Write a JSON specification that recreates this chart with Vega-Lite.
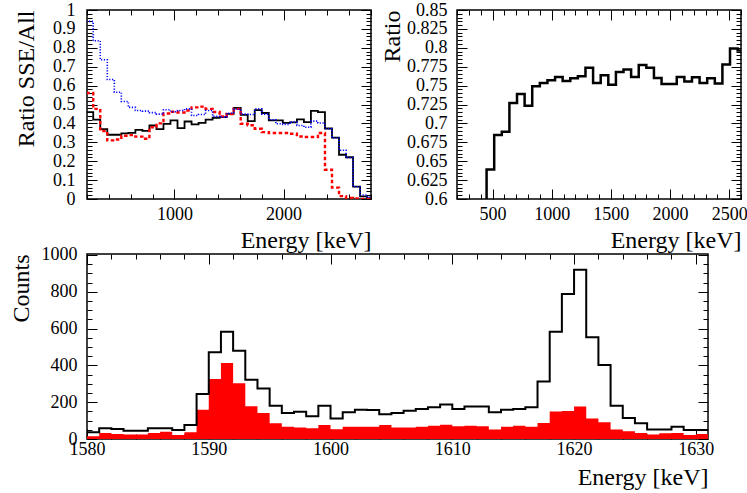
{
  "$schema": "https://vega.github.io/schema/vega-lite/v6.json",
  "background": "white",
  "padding": {"left": 8, "top": 0, "right": 0, "bottom": 0},
  "datasets": {
    "tl": [
      {"e": 192.9, "bk": 0.46, "bl": 0.94, "rd": 0.561},
      {"e": 257.1, "bk": 0.42, "bl": 0.837, "rd": 0.477},
      {"e": 321.4, "bk": 0.37, "bl": 0.737, "rd": 0.36},
      {"e": 385.7, "bk": 0.34, "bl": 0.632, "rd": 0.31},
      {"e": 450.0, "bk": 0.34, "bl": 0.565, "rd": 0.315},
      {"e": 514.3, "bk": 0.347, "bl": 0.516, "rd": 0.335},
      {"e": 578.6, "bk": 0.35, "bl": 0.485, "rd": 0.338},
      {"e": 642.9, "bk": 0.366, "bl": 0.468, "rd": 0.33},
      {"e": 707.1, "bk": 0.36, "bl": 0.465, "rd": 0.319},
      {"e": 771.4, "bk": 0.389, "bl": 0.457, "rd": 0.38},
      {"e": 835.7, "bk": 0.37, "bl": 0.449, "rd": 0.4},
      {"e": 900.0, "bk": 0.398, "bl": 0.472, "rd": 0.452},
      {"e": 964.3, "bk": 0.416, "bl": 0.462, "rd": 0.462},
      {"e": 1028.6, "bk": 0.375, "bl": 0.468, "rd": 0.458},
      {"e": 1092.9, "bk": 0.41, "bl": 0.477, "rd": 0.468},
      {"e": 1157.1, "bk": 0.395, "bl": 0.442, "rd": 0.485},
      {"e": 1221.4, "bk": 0.403, "bl": 0.447, "rd": 0.489},
      {"e": 1285.7, "bk": 0.42, "bl": 0.468, "rd": 0.477},
      {"e": 1350.0, "bk": 0.43, "bl": 0.437, "rd": 0.46},
      {"e": 1414.3, "bk": 0.433, "bl": 0.433, "rd": 0.437},
      {"e": 1478.6, "bk": 0.45, "bl": 0.454, "rd": 0.45},
      {"e": 1542.9, "bk": 0.482, "bl": 0.475, "rd": 0.477},
      {"e": 1607.1, "bk": 0.445, "bl": 0.449, "rd": 0.398},
      {"e": 1671.4, "bk": 0.412, "bl": 0.447, "rd": 0.39},
      {"e": 1735.7, "bk": 0.47, "bl": 0.477, "rd": 0.372},
      {"e": 1800.0, "bk": 0.455, "bl": 0.449, "rd": 0.354},
      {"e": 1864.3, "bk": 0.416, "bl": 0.419, "rd": 0.349},
      {"e": 1928.6, "bk": 0.416, "bl": 0.398, "rd": 0.349},
      {"e": 1992.9, "bk": 0.403, "bl": 0.395, "rd": 0.349},
      {"e": 2057.1, "bk": 0.405, "bl": 0.407, "rd": 0.345},
      {"e": 2121.4, "bk": 0.421, "bl": 0.389, "rd": 0.331},
      {"e": 2185.7, "bk": 0.407, "bl": 0.38, "rd": 0.328},
      {"e": 2250.0, "bk": 0.466, "bl": 0.412, "rd": 0.328},
      {"e": 2314.3, "bk": 0.46, "bl": 0.402, "rd": 0.349},
      {"e": 2378.6, "bk": 0.373, "bl": 0.372, "rd": 0.155},
      {"e": 2442.9, "bk": 0.325, "bl": 0.323, "rd": 0.06},
      {"e": 2507.1, "bk": 0.234, "bl": 0.258, "rd": 0.015},
      {"e": 2571.4, "bk": 0.221, "bl": 0.219, "rd": 0.005},
      {"e": 2635.7, "bk": 0.065, "bl": 0.065, "rd": 0.003},
      {"e": 2700.0, "bk": 0.014, "bl": 0.021, "rd": 0.0},
      {"e": 2764.3, "bk": 0.003, "bl": 0.009, "rd": 0.0},
      {"e": 2828.6, "bk": 0.003, "bl": 0.009, "rd": 0.0}
    ],
    "tr": [
      {"e": 385.7, "v": 0.59},
      {"e": 450.0, "v": 0.639},
      {"e": 514.3, "v": 0.6845},
      {"e": 578.6, "v": 0.689},
      {"e": 642.9, "v": 0.727},
      {"e": 707.1, "v": 0.739},
      {"e": 771.4, "v": 0.7235},
      {"e": 835.7, "v": 0.749},
      {"e": 900.0, "v": 0.7535},
      {"e": 964.3, "v": 0.757},
      {"e": 1028.6, "v": 0.7615},
      {"e": 1092.9, "v": 0.756},
      {"e": 1157.1, "v": 0.7597},
      {"e": 1221.4, "v": 0.7624},
      {"e": 1285.7, "v": 0.7735},
      {"e": 1350.0, "v": 0.7535},
      {"e": 1414.3, "v": 0.7637},
      {"e": 1478.6, "v": 0.751},
      {"e": 1542.9, "v": 0.768},
      {"e": 1607.1, "v": 0.7712},
      {"e": 1671.4, "v": 0.7615},
      {"e": 1735.7, "v": 0.7774},
      {"e": 1800.0, "v": 0.7735},
      {"e": 1864.3, "v": 0.76},
      {"e": 1928.6, "v": 0.752},
      {"e": 1992.9, "v": 0.752},
      {"e": 2057.1, "v": 0.7615},
      {"e": 2121.4, "v": 0.7553},
      {"e": 2185.7, "v": 0.761},
      {"e": 2250.0, "v": 0.7535},
      {"e": 2314.3, "v": 0.7597},
      {"e": 2378.6, "v": 0.7527},
      {"e": 2442.9, "v": 0.7779},
      {"e": 2507.1, "v": 0.7991},
      {"e": 2571.4, "v": 0.7965},
      {"e": 2635.7, "v": 0.7965}
    ],
    "bt": [
      {"e": 1580, "all": 36, "sse": 15},
      {"e": 1581, "all": 58, "sse": 33},
      {"e": 1582, "all": 54, "sse": 27},
      {"e": 1583, "all": 45, "sse": 24},
      {"e": 1584, "all": 45, "sse": 24},
      {"e": 1585, "all": 58, "sse": 33},
      {"e": 1586, "all": 58, "sse": 40},
      {"e": 1587, "all": 49, "sse": 22},
      {"e": 1588, "all": 76, "sse": 36},
      {"e": 1589, "all": 245, "sse": 159},
      {"e": 1590, "all": 471, "sse": 326},
      {"e": 1591, "all": 583, "sse": 413},
      {"e": 1592, "all": 480, "sse": 303},
      {"e": 1593, "all": 322, "sse": 178},
      {"e": 1594, "all": 275, "sse": 141},
      {"e": 1595, "all": 181, "sse": 85},
      {"e": 1596, "all": 141, "sse": 67},
      {"e": 1597, "all": 148, "sse": 62},
      {"e": 1598, "all": 123, "sse": 58},
      {"e": 1599, "all": 181, "sse": 76},
      {"e": 1600, "all": 112, "sse": 53},
      {"e": 1601, "all": 145, "sse": 67},
      {"e": 1602, "all": 159, "sse": 67},
      {"e": 1603, "all": 157, "sse": 67},
      {"e": 1604, "all": 134, "sse": 76},
      {"e": 1605, "all": 141, "sse": 63},
      {"e": 1606, "all": 154, "sse": 63},
      {"e": 1607, "all": 163, "sse": 67},
      {"e": 1608, "all": 172, "sse": 72},
      {"e": 1609, "all": 187, "sse": 78},
      {"e": 1610, "all": 163, "sse": 69},
      {"e": 1611, "all": 176, "sse": 72},
      {"e": 1612, "all": 176, "sse": 69},
      {"e": 1613, "all": 145, "sse": 51},
      {"e": 1614, "all": 159, "sse": 67},
      {"e": 1615, "all": 163, "sse": 72},
      {"e": 1616, "all": 172, "sse": 67},
      {"e": 1617, "all": 312, "sse": 87},
      {"e": 1618, "all": 583, "sse": 149},
      {"e": 1619, "all": 788, "sse": 152},
      {"e": 1620, "all": 920, "sse": 176},
      {"e": 1621, "all": 553, "sse": 112},
      {"e": 1622, "all": 402, "sse": 91},
      {"e": 1623, "all": 181, "sse": 51},
      {"e": 1624, "all": 114, "sse": 42},
      {"e": 1625, "all": 85, "sse": 33},
      {"e": 1626, "all": 51, "sse": 24},
      {"e": 1627, "all": 51, "sse": 31},
      {"e": 1628, "all": 67, "sse": 33},
      {"e": 1629, "all": 49, "sse": 22},
      {"e": 1630, "all": 49, "sse": 27},
      {"e": 1631, "all": 49, "sse": 27}
    ]
  },
  "vconcat": [
    {
      "hconcat": [
        {
          "width": 284,
          "height": 189,
          "data": {"name": "tl"},
          "layer": [
            {
              "mark": {"type": "line", "interpolate": "step-after", "color": "black", "strokeWidth": 1.8, "clip": true},
              "encoding": {
                "x": {"field": "e", "type": "quantitative", "scale": {"domain": [200, 2800], "nice": false, "zero": false},
                  "axis": {"orient": "bottom", "values": [200,400,600,800,1000,1200,1400,1600,1800,2000,2200,2400,2600,2800], "format": "d",
                    "labelExpr": "datum.value % 1000 === 0 ? datum.label : ''",
                    "tickSize": {"condition": {"test": "datum.value % 1000 === 0", "value": -10}, "value": -5},
                    "labelPadding": 16, "labelFlush": false, "labelOverlap": false,
                    "title": "Energy [keV]", "titleAnchor": "end", "titlePadding": 0}},
                "y": {"field": "bk", "type": "quantitative", "scale": {"domain": [0, 1], "nice": false},
                  "axis": {"orient": "left", "values": [0,0.02,0.04,0.06,0.08,0.1,0.12,0.14,0.16,0.18,0.2,0.22,0.24,0.26,0.28,0.3,0.32,0.34,0.36,0.38,0.4,0.42,0.44,0.46,0.48,0.5,0.52,0.54,0.56,0.58,0.6,0.62,0.64,0.66,0.68,0.7,0.72,0.74,0.76,0.78,0.8,0.82,0.84,0.86,0.88,0.9,0.92,0.94,0.96,0.98,1],
                    "labelExpr": "abs(datum.value*10-round(datum.value*10))<1e-6 ? format(datum.value,'~g') : ''",
                    "tickSize": {"condition": {"test": "abs(datum.value*10-round(datum.value*10))<1e-6", "value": -10}, "value": -5},
                    "labelPadding": 22, "labelOverlap": false, "labelFlush": false,
                    "title": "Ratio SSE/All", "titleAnchor": "end", "titlePadding": 14}}
              }
            },
            {
              "mark": {"type": "line", "interpolate": "step-after", "color": "#ff0000", "strokeWidth": 2.4, "strokeDash": [3.5, 2.5], "clip": true},
              "encoding": {
                "x": {"field": "e", "type": "quantitative", "axis": null},
                "y": {"field": "rd", "type": "quantitative", "axis": null}
              }
            },
            {
              "mark": {"type": "line", "interpolate": "step-after", "color": "#0000ff", "strokeWidth": 1.6, "strokeDash": [1.2, 1.6], "clip": true},
              "encoding": {
                "x": {"field": "e", "type": "quantitative", "axis": null},
                "y": {"field": "bl", "type": "quantitative", "axis": null}
              }
            },
            {
              "mark": {"type": "line", "opacity": 0, "clip": true},
              "encoding": {
                "x": {"field": "e", "type": "quantitative",
                  "axis": {"orient": "top", "values": [200,400,600,800,1000,1200,1400,1600,1800,2000,2200,2400,2600,2800], "labels": false, "title": null,
                    "tickSize": {"condition": {"test": "datum.value % 1000 === 0", "value": -10}, "value": -5}}},
                "y": {"field": "bk", "type": "quantitative",
                  "axis": {"orient": "right", "values": [0,0.02,0.04,0.06,0.08,0.1,0.12,0.14,0.16,0.18,0.2,0.22,0.24,0.26,0.28,0.3,0.32,0.34,0.36,0.38,0.4,0.42,0.44,0.46,0.48,0.5,0.52,0.54,0.56,0.58,0.6,0.62,0.64,0.66,0.68,0.7,0.72,0.74,0.76,0.78,0.8,0.82,0.84,0.86,0.88,0.9,0.92,0.94,0.96,0.98,1], "labels": false, "title": null,
                    "tickSize": {"condition": {"test": "abs(datum.value*10-round(datum.value*10))<1e-6", "value": -10}, "value": -5}}}
              }
            }
          ],
          "resolve": {"axis": {"x": "independent", "y": "independent"}}
        },
        {
          "width": 284,
          "height": 189,
          "data": {"name": "tr"},
          "layer": [
            {
              "mark": {"type": "line", "interpolate": "step-after", "color": "black", "strokeWidth": 2.5, "clip": true},
              "encoding": {
                "x": {"field": "e", "type": "quantitative", "scale": {"domain": [200, 2600], "nice": false, "zero": false},
                  "axis": {"orient": "bottom", "values": [200,300,400,500,600,700,800,900,1000,1100,1200,1300,1400,1500,1600,1700,1800,1900,2000,2100,2200,2300,2400,2500,2600], "format": "d",
                    "labelExpr": "datum.value % 500 === 0 ? datum.label : ''",
                    "tickSize": {"condition": {"test": "datum.value % 500 === 0", "value": -10}, "value": -5},
                    "labelPadding": 16, "labelFlush": false, "labelOverlap": false,
                    "title": "Energy [keV]", "titleAnchor": "end", "titlePadding": 0}},
                "y": {"field": "v", "type": "quantitative", "scale": {"domain": [0.6, 0.85], "nice": false, "zero": false},
                  "axis": {"orient": "left", "values": [0.6,0.605,0.61,0.615,0.62,0.625,0.63,0.635,0.64,0.645,0.65,0.655,0.66,0.665,0.67,0.675,0.68,0.685,0.69,0.695,0.7,0.705,0.71,0.715,0.72,0.725,0.73,0.735,0.74,0.745,0.75,0.755,0.76,0.765,0.77,0.775,0.78,0.785,0.79,0.795,0.8,0.805,0.81,0.815,0.82,0.825,0.83,0.835,0.84,0.845,0.85],
                    "labelExpr": "abs(datum.value*40-round(datum.value*40))<1e-6 ? format(datum.value,'~g') : ''",
                    "tickSize": {"condition": {"test": "abs(datum.value*40-round(datum.value*40))<1e-6", "value": -10}, "value": -5},
                    "labelPadding": 20, "labelOverlap": false, "labelFlush": false,
                    "title": "Ratio", "titleAnchor": "end", "titlePadding": 2}}
              }
            },
            {
              "mark": {"type": "line", "opacity": 0, "clip": true},
              "encoding": {
                "x": {"field": "e", "type": "quantitative",
                  "axis": {"orient": "top", "values": [200,300,400,500,600,700,800,900,1000,1100,1200,1300,1400,1500,1600,1700,1800,1900,2000,2100,2200,2300,2400,2500,2600], "labels": false, "title": null,
                    "tickSize": {"condition": {"test": "datum.value % 500 === 0", "value": -10}, "value": -5}}},
                "y": {"field": "v", "type": "quantitative",
                  "axis": {"orient": "right", "values": [0.6,0.605,0.61,0.615,0.62,0.625,0.63,0.635,0.64,0.645,0.65,0.655,0.66,0.665,0.67,0.675,0.68,0.685,0.69,0.695,0.7,0.705,0.71,0.715,0.72,0.725,0.73,0.735,0.74,0.745,0.75,0.755,0.76,0.765,0.77,0.775,0.78,0.785,0.79,0.795,0.8,0.805,0.81,0.815,0.82,0.825,0.83,0.835,0.84,0.845,0.85], "labels": false, "title": null,
                    "tickSize": {"condition": {"test": "abs(datum.value*40-round(datum.value*40))<1e-6", "value": -10}, "value": -5}}}
              }
            }
          ],
          "resolve": {"axis": {"x": "independent", "y": "independent"}}
        }
      ],
      "spacing": 86,
      "bounds": "flush"
    },
    {
      "width": 621,
      "height": 185,
      "data": {"name": "bt"},
      "layer": [
        {
          "mark": {"type": "area", "interpolate": "step-after", "color": "#ff0000", "clip": true},
          "encoding": {
            "x": {"field": "e", "type": "quantitative", "scale": {"domain": [1580, 1631], "nice": false, "zero": false},
              "axis": {"orient": "bottom", "values": [1580,1582,1584,1586,1588,1590,1592,1594,1596,1598,1600,1602,1604,1606,1608,1610,1612,1614,1616,1618,1620,1622,1624,1626,1628,1630], "format": "d",
                "labelExpr": "datum.value % 10 === 0 ? datum.label : ''",
                "tickSize": {"condition": {"test": "datum.value % 10 === 0", "value": -10}, "value": -5},
                "labelPadding": 11, "labelFlush": false, "labelOverlap": false,
                "title": "Energy [keV]", "titleAnchor": "end", "titlePadding": 2}},
            "y": {"field": "sse", "type": "quantitative", "scale": {"domain": [0, 1005], "nice": false},
              "axis": {"orient": "left", "values": [0,50,100,150,200,250,300,350,400,450,500,550,600,650,700,750,800,850,900,950,1000], "format": "d",
                "labelExpr": "datum.value % 200 === 0 ? datum.label : ''",
                "tickSize": {"condition": {"test": "datum.value % 200 === 0", "value": -10}, "value": -5},
                "labelPadding": 20, "labelOverlap": false, "labelFlush": false,
                "title": "Counts", "titleAnchor": "end", "titlePadding": 8}}
          }
        },
        {
          "mark": {"type": "line", "interpolate": "step-after", "color": "black", "strokeWidth": 2, "clip": true},
          "encoding": {
            "x": {"field": "e", "type": "quantitative", "axis": null},
            "y": {"field": "all", "type": "quantitative", "axis": null}
          }
        },
        {
          "mark": {"type": "line", "opacity": 0, "clip": true},
          "encoding": {
            "x": {"field": "e", "type": "quantitative",
              "axis": {"orient": "top", "values": [1580,1582,1584,1586,1588,1590,1592,1594,1596,1598,1600,1602,1604,1606,1608,1610,1612,1614,1616,1618,1620,1622,1624,1626,1628,1630], "labels": false, "title": null,
                "tickSize": {"condition": {"test": "datum.value % 10 === 0", "value": -10}, "value": -5}}},
            "y": {"field": "all", "type": "quantitative",
              "axis": {"orient": "right", "values": [0,50,100,150,200,250,300,350,400,450,500,550,600,650,700,750,800,850,900,950,1000], "labels": false, "title": null,
                "tickSize": {"condition": {"test": "datum.value % 200 === 0", "value": -10}, "value": -5}}}
          }
        }
      ],
      "resolve": {"axis": {"x": "independent", "y": "independent"}}
    }
  ],
  "spacing": -8,
  "config": {
    "view": {"stroke": "black", "strokeWidth": 1.5},
    "axis": {
      "domain": false,
      "grid": false,
      "tickColor": "black",
      "tickWidth": 1,
      "labelFont": "Liberation Serif",
      "labelFontSize": 18,
      "labelColor": "black",
      "titleFont": "Liberation Serif",
      "titleFontSize": 24,
      "titleFontWeight": "normal",
      "titleColor": "black"
    }
  }
}
